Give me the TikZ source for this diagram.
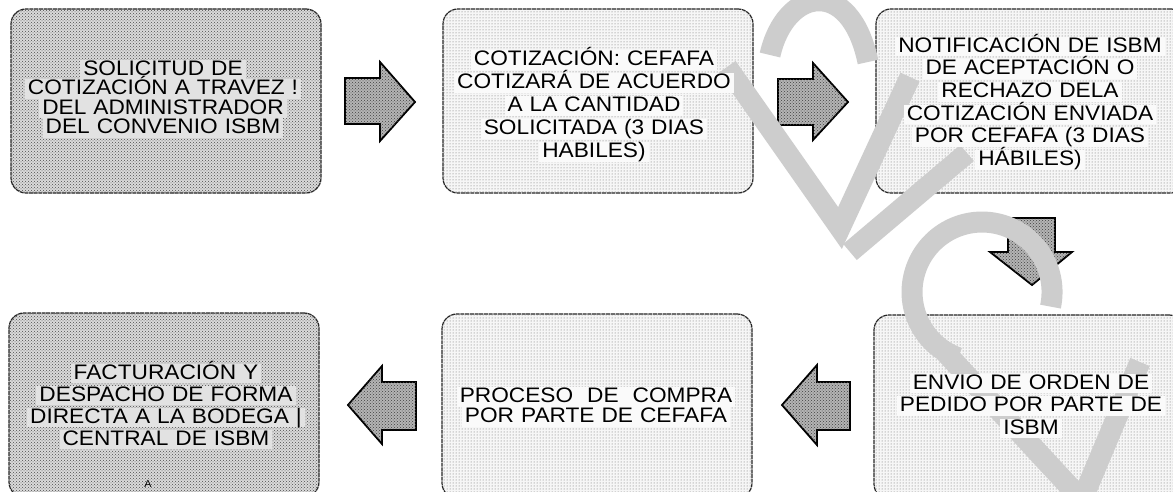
\documentclass[tikz,border=0pt]{standalone}
\usepackage{fontspec}
\setmainfont{Liberation Sans}[FakeStretch=1.08]
\usetikzlibrary{patterns}
\definecolor{darkfill}{HTML}{DADADA}
\definecolor{lightfill}{HTML}{F6F6F6}
\definecolor{darkhl}{HTML}{E2E2E2}
\definecolor{lighthl}{HTML}{FAFAFA}
\definecolor{arrowfill}{HTML}{B4B4B4}
\definecolor{wmark}{HTML}{CDCDCD}
\newcommand\hl[2]{\leavevmode\setbox0=\hbox{#2}\hbox{\kern-3pt\rlap{\color{#1}\rule[-4pt]{\dimexpr\wd0+6pt\relax}{19.5pt}}\kern3pt\box0}}
\tikzset{
  box/.style={rectangle, rounded corners=15pt, draw=black!85, line width=1.2pt,
    dash pattern=on 4pt off 0.7pt, minimum width=310pt, minimum height=184pt,
    inner sep=0pt, outer sep=0pt},
  darkbox/.style={box, fill=darkfill, postaction={pattern=crosshatch dots, pattern color=black!70}},
  lightbox/.style={box, fill=lightfill, postaction={pattern=dots, pattern color=black!60}},
  label/.style={text width=300pt, align=center, inner sep=0pt,
    execute at begin node={\lineskiplimit=-100pt\lineskip=0pt}},
  blockarrow/.style={draw=black, line width=1.8pt, fill=arrowfill, line join=miter,
    postaction={pattern=crosshatch dots, pattern color=black!75}},
  wm/.style={draw=wmark, line width=21pt, line cap=butt, line join=miter}
}
\begin{document}
\begin{tikzpicture}[x=1pt, y=-1pt]
\path[use as bounding box, clip] (0,0) rectangle (1173,492);
\fill[white] (0,0) rectangle (1173,492);
% boxes
\node[darkbox]  (b1) at (166,101) {};
\node[lightbox] (b2) at (598,101) {};
\node[lightbox] (b3) at (1031,101) {};
\node[lightbox] (b4) at (1029,407) {};
\node[lightbox] (b5) at (597,406) {};
\node[darkbox]  (b6) at (164,405) {};
% block arrows
\draw[blockarrow] (345,78) -- (380,78) -- (380,62) -- (415,102) -- (380,141) -- (380,124) -- (345,124) -- cycle;
\draw[blockarrow] (778,79) -- (813,79) -- (813,63) -- (848,102) -- (813,140) -- (813,125) -- (778,125) -- cycle;
\draw[blockarrow] (1008,218) -- (1055,218) -- (1055,252) -- (1072,252) -- (1032,285) -- (990,252) -- (1008,252) -- cycle;
\draw[blockarrow] (850,382) -- (817,382) -- (817,365) -- (782,405) -- (817,445) -- (817,430) -- (850,430) -- cycle;
\draw[blockarrow] (416,382) -- (382,382) -- (382,366) -- (348,405) -- (382,444) -- (382,430) -- (416,430) -- cycle;
% watermark
\draw[wm] (770,55) .. controls (785,-12) and (850,-25) .. (868,62);
\draw[wm] (727,67) -- (840,228) -- (910,77);
\draw[wm] (850,252) -- (967,153);
\draw[wm] (1050.5,306.6) arc[start angle=12, end angle=-250, radius=70];
\draw[wm] (945,352) -- (1082,500) -- (1140,362);
% texts
\node[label, font=\fontsize{21}{19.5}\selectfont] (t1) at (163,99)
  {\hl{darkhl}{SOLICITUD DE}\\\hl{darkhl}{COTIZACIÓN A TRAVEZ !}\\\hl{darkhl}{DEL ADMINISTRADOR}\\\hl{darkhl}{DEL CONVENIO ISBM}};
\node[label, font=\fontsize{21}{23}\selectfont] (t2) at (594,105)
  {\hl{lighthl}{COTIZACIÓN: CEFAFA}\\\hl{lighthl}{COTIZARÁ DE ACUERDO}\\\hl{lighthl}{A LA CANTIDAD}\\\hl{lighthl}{SOLICITADA (3 DIAS}\\\hl{lighthl}{HABILES)}};
\node[label, font=\fontsize{21}{22.7}\selectfont] (t3) at (1030,102)
  {\hl{lighthl}{NOTIFICACIÓN DE ISBM}\\\hl{lighthl}{DE ACEPTACIÓN O}\\\hl{lighthl}{RECHAZO DELA}\\\hl{lighthl}{COTIZACIÓN ENVIADA}\\\hl{lighthl}{POR CEFAFA (3 DIAS}\\\hl{lighthl}{HÁBILES)}};
\node[label, font=\fontsize{21}{22.3}\selectfont] (t4) at (1031,406)
  {\hl{lighthl}{ENVIO DE ORDEN DE}\\\hl{lighthl}{PEDIDO POR PARTE DE}\\\hl{lighthl}{ISBM}};
\node[label, font=\fontsize{21}{20}\selectfont] (t5) at (596,407)
  {\hl{lighthl}{PROCESO\ \ DE\ \ COMPRA}\\\hl{lighthl}{POR PARTE DE CEFAFA}};
\node[label, font=\fontsize{21}{22}\selectfont] (t6) at (166,405)
  {\hl{darkhl}{FACTURACIÓN Y}\\\hl{darkhl}{DESPACHO DE FORMA}\\\hl{darkhl}{DIRECTA A LA BODEGA |}\\\hl{darkhl}{CENTRAL DE ISBM}};
\node[font=\fontsize{10}{10}\selectfont, anchor=north, inner sep=0pt] (tA) at (148,480) {A};
\end{tikzpicture}
\end{document}
